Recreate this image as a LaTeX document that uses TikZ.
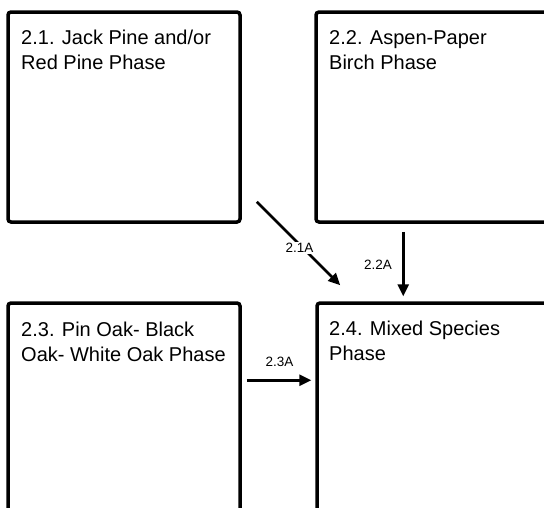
\documentclass[tikz,border=0pt]{standalone}
\usepackage{fontspec}
\setmainfont{Liberation Sans}
\usetikzlibrary{arrows.meta,calc}
\tikzset{
  phasebox/.style={draw=black, line width=3.5pt, rounded corners=3pt, inner sep=0pt, fill=white},
  phasetext/.style={anchor=base west, align=left, inner sep=0pt, font=\fontsize{20}{25.5}\selectfont},
  trans/.style={line width=2.6pt, -{Triangle[length=12pt,width=11pt]}},
  translabel/.style={fill=white, inner sep=1.5pt, font=\fontsize{13.5}{15}\selectfont}
}
\begin{document}
\begin{tikzpicture}[x=1pt,y=-1pt]
\useasboundingbox (0,0) rectangle (544,507);
\clip (0,0) rectangle (544,507);
% boxes
\node[phasebox, minimum width=232pt, minimum height=210pt] (b21) at (124,117) {};
\node[phasebox, minimum width=264pt, minimum height=210pt] (b22) at (448,117) {};
\node[phasebox, minimum width=232pt, minimum height=237pt] (b23) at (124,421.5) {};
\node[phasebox, minimum width=263pt, minimum height=237pt] (b24) at (448.5,421.5) {};
% texts (anchor = baseline of the last line)
\node[phasetext] (t21) at (21,69.5) {2.1. Jack Pine and/or\\Red Pine Phase};
\node[phasetext] (t22) at (329,69.5) {2.2. Aspen-Paper\\Birch Phase};
\node[phasetext] (t23) at (21,361.5) {2.3. Pin Oak- Black\\Oak- White Oak Phase};
\node[phasetext] (t24) at (329,360.5) {2.4. Mixed Species\\Phase};
% connector ends
\coordinate (s1) at ($(b21.south east)+(15,-22)$);
\coordinate (e1) at ($(b24.north west)+(25,-16)$);
\coordinate (s2) at ($(b22.south west)+(89,8)$);
\coordinate (e2) at ($(b24.north west)+(88,-5)$);
\coordinate (s3) at ($(b23.north east)+(5,79)$);
\coordinate (e3) at ($(b24.north west)+(-4,79)$);
% connectors
\draw[trans] (s1) -- (e1);
\node[translabel] (l1) at (299.5,248) {2.1A};
\draw[trans] (s2) -- (e2);
\node[translabel, fill=none] (l2) at (378,265) {2.2A};
\draw[trans] (s3) -- (e3);
\node[translabel, fill=none] (l3) at (279.5,362) {2.3A};
\end{tikzpicture}
\end{document}
